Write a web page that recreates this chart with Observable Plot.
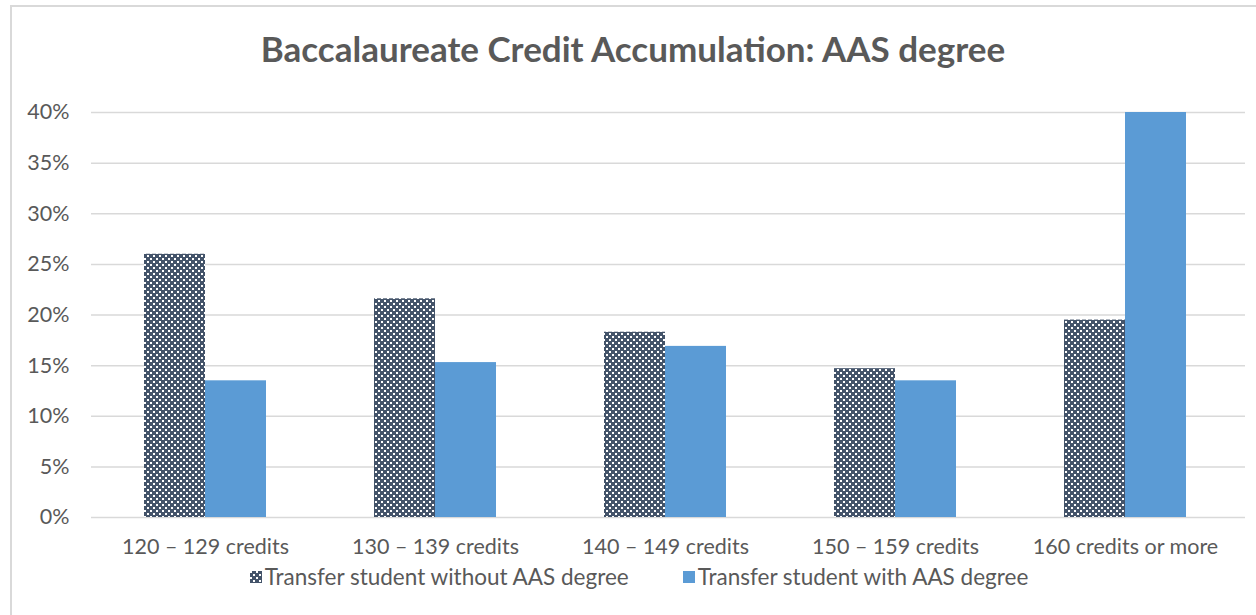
<!DOCTYPE html>
<html>
<head>
<meta charset="utf-8">
<script src="https://cdn.jsdelivr.net/npm/d3@7"></script>
<script src="https://cdn.jsdelivr.net/npm/@observablehq/plot@0.6"></script>
<style>
  html, body { margin: 0; padding: 0; background: #fff; }
  body { width: 1256px; height: 615px; overflow: hidden; position: relative; font-family: Lato, "Open Sans", sans-serif; }
  #frame { position: absolute; left: 10px; top: 5px; width: 1300px; height: 700px; border-left: 2px solid #d9d9d9; border-top: 2px solid #d9d9d9; box-sizing: border-box; }
  #title { position: absolute; left: 0; top: 0; width: 1266px; height: 90px; line-height: 96px; text-align: center; font-size: 35px; font-weight: bold; color: #595959; }
  #chart { position: absolute; left: 0; top: 90px; }
  #legend { position: absolute; left: 11px; top: 563px; width: 1256px; display: flex; justify-content: center; font-size: 22.5px; color: #595959; }
  .item { display: flex; align-items: center; margin: 0 27px; }
  .sw { width: 12px; height: 12px; margin-right: 3px; }
</style>
</head>
<body>
<div id="frame"></div>
<div id="title">Baccalaureate Credit Accumulation: AAS degree</div>
<div id="chart"></div>
<div id="legend"></div>
<script>
const categories = ["120 – 129 credits", "130 – 139 credits", "140 – 149 credits", "150 – 159 credits", "160 credits or more"];
const seriesNames = ["Transfer student without AAS degree", "Transfer student with AAS degree"];
const withoutAAS = [0.26, 0.216, 0.183, 0.147, 0.195];
const withAAS = [0.135, 0.153, 0.169, 0.135, 0.40];
const yTicks = [0, 0.05, 0.10, 0.15, 0.20, 0.25, 0.30, 0.35, 0.40];

const blue = "#5B9BD5";
const dark = "#44546A";

const dataWithout = categories.map((c, i) => ({category: c, value: withoutAAS[i]}));
const dataWith = categories.map((c, i) => ({category: c, value: withAAS[i]}));

const tile = 6;

function patternDefs() {
  const ns = "http://www.w3.org/2000/svg";
  const defs = document.createElementNS(ns, "defs");
  const p = document.createElementNS(ns, "pattern");
  p.setAttribute("id", "checker");
  p.setAttribute("patternUnits", "userSpaceOnUse");
  p.setAttribute("width", tile);
  p.setAttribute("height", tile);
  const bg = document.createElementNS(ns, "rect");
  bg.setAttribute("width", tile); bg.setAttribute("height", tile); bg.setAttribute("fill", dark);
  p.appendChild(bg);
  for (const [x, y] of [[0, 0], [3, 3]]) {
    const r = document.createElementNS(ns, "rect");
    r.setAttribute("x", x); r.setAttribute("y", y);
    r.setAttribute("width", "2"); r.setAttribute("height", "2");
    r.setAttribute("fill", "#ffffff");
    p.appendChild(r);
  }
  defs.appendChild(p);
  return defs;
}

const chart = Plot.plot({
  width: 1256,
  height: 470,
  marginTop: 22,
  marginBottom: 43,
  marginLeft: 91,
  marginRight: 11,
  style: {fontFamily: "Lato, 'Open Sans', sans-serif", fontSize: "21.5px", color: "#595959", background: "transparent"},
  x: {domain: categories, paddingInner: 0.4714, paddingOuter: 0.2357, align: 0.47, label: null, tickSize: 0, tickPadding: 21},
  y: {domain: [0, 0.40], ticks: yTicks, tickFormat: d3.format(".0%"), label: null, tickSize: 0, tickPadding: 22},
  marks: [
    patternDefs,
    Plot.ruleY(yTicks, {stroke: "#d9d9d9", strokeWidth: 1.5}),
    Plot.barY(dataWithout, {x: "category", y: "value", fill: "url(#checker)", insetRight: 61}),
    Plot.barY(dataWith, {x: "category", y: "value", fill: blue, insetLeft: 61})
  ]
});
document.getElementById("chart").appendChild(chart);

const legend = document.getElementById("legend");
const swatches = [
  `<svg class="sw" width="12" height="12"><defs><pattern id="checkerL" patternUnits="userSpaceOnUse" width="6" height="6"><rect width="6" height="6" fill="${dark}"/><rect x="0" y="0" width="2" height="2" fill="#fff"/><rect x="3" y="3" width="2" height="2" fill="#fff"/></pattern></defs><rect width="12" height="12" fill="url(#checkerL)"/></svg>`,
  `<svg class="sw" width="12" height="12"><rect width="12" height="12" fill="${blue}"/></svg>`
];
seriesNames.forEach((name, i) => {
  const item = document.createElement("div");
  item.className = "item";
  item.innerHTML = swatches[i] + `<span>${name}</span>`;
  legend.appendChild(item);
});
</script>
</body>
</html>
